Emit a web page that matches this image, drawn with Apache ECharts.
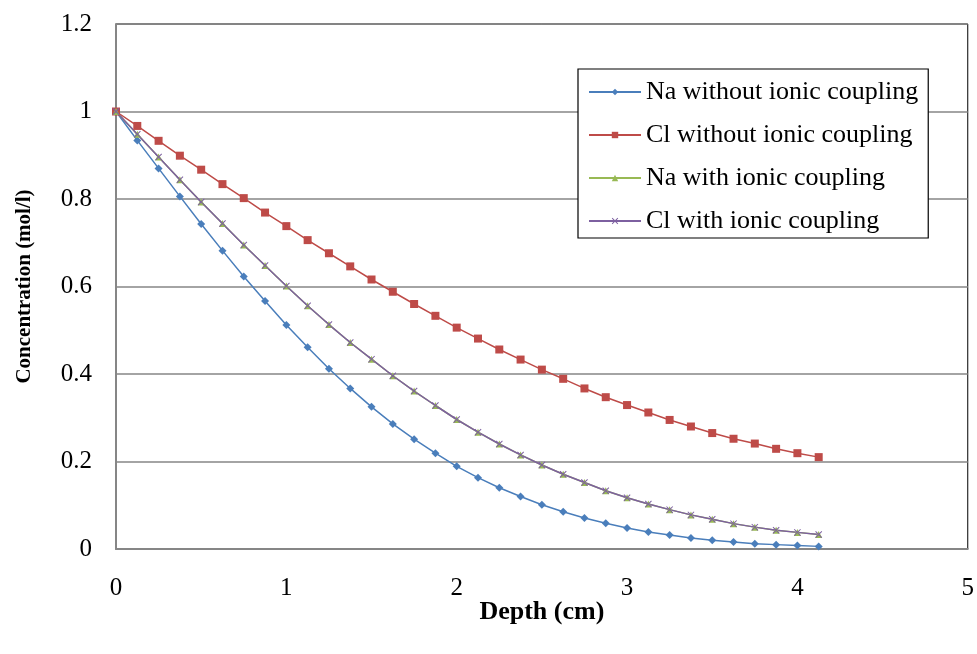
<!DOCTYPE html>
<html>
<head>
<meta charset="utf-8">
<style>
  html, body { margin: 0; padding: 0; background: #fff; }
  #chart { width: 977px; height: 654px; }
</style>
<script src="https://cdn.jsdelivr.net/npm/echarts@6/dist/echarts.min.js"></script>
</head>
<body>
<div id="chart"></div>
<script>
// depth (cm)
var depth = [0, 0.125, 0.25, 0.375, 0.5, 0.625, 0.75, 0.875, 1, 1.125, 1.25, 1.375, 1.5, 1.625, 1.75, 1.875,
  2, 2.125, 2.25, 2.375, 2.5, 2.625, 2.75, 2.875, 3, 3.125, 3.25, 3.375, 3.5, 3.625, 3.75, 3.875, 4, 4.125];
// Na without ionic coupling
var naWithout = [1, 0.934, 0.870, 0.806, 0.743, 0.682, 0.623, 0.567, 0.512, 0.461, 0.412, 0.367, 0.325, 0.286, 0.251, 0.219,
  0.189, 0.163, 0.140, 0.120, 0.101, 0.085, 0.071, 0.059, 0.048, 0.039, 0.032, 0.025, 0.020, 0.016, 0.012, 0.010, 0.008, 0.006];
// Cl without ionic coupling
var clWithout = [1, 0.967, 0.933, 0.899, 0.867, 0.834, 0.802, 0.769, 0.738, 0.706, 0.676, 0.646, 0.616, 0.588, 0.560, 0.533,
  0.506, 0.481, 0.456, 0.433, 0.410, 0.389, 0.367, 0.347, 0.329, 0.312, 0.295, 0.280, 0.265, 0.252, 0.241, 0.229, 0.219, 0.210];
// Na with ionic coupling
var naWith = [1, 0.948, 0.896, 0.844, 0.793, 0.744, 0.695, 0.648, 0.601, 0.556, 0.513, 0.472, 0.434, 0.396, 0.361, 0.328,
  0.296, 0.267, 0.240, 0.215, 0.192, 0.171, 0.152, 0.133, 0.117, 0.103, 0.090, 0.078, 0.068, 0.058, 0.050, 0.043, 0.038, 0.033];
// Cl with ionic coupling
var clWith = [1, 0.948, 0.896, 0.844, 0.793, 0.744, 0.695, 0.648, 0.601, 0.556, 0.513, 0.472, 0.434, 0.396, 0.361, 0.328,
  0.296, 0.267, 0.240, 0.215, 0.192, 0.171, 0.152, 0.133, 0.117, 0.103, 0.090, 0.078, 0.068, 0.058, 0.050, 0.043, 0.038, 0.033];

var seriesNames = ["Na without ionic coupling", "Cl without ionic coupling", "Na with ionic coupling", "Cl with ionic coupling"];

function pairs(ys) {
  return depth.map(function (x, i) { return [x, ys[i]]; });
}

var serif = "Liberation Serif";
//X形标记
var crossPath = "path://M0,1L1,0L5,4L9,0L10,1L6,5L10,9L9,10L5,6L1,10L0,9L4,5Z";

function lineSeries(name, ys, color, symbol, size) {
  return {
    name: name,
    type: "line",
    data: pairs(ys),
    symbol: symbol,
    symbolSize: size,
    showSymbol: true,
    itemStyle: { color: color, borderWidth: 0 },
    lineStyle: { color: color, width: 1.5 },
  };
}

var option = {
  animation: false,
  backgroundColor: "#fff",
  textStyle: { fontFamily: serif, color: "#000" },
  grid: {
    left: 116,
    right: 8,
    top: 24,
    bottom: 105,
    show: true,
    borderColor: "#000",
    borderWidth: 1,
  },
  legend: {
    orient: "vertical",
    left: 578,
    top: 69,
    padding: [10, 10, 4, 10],
    itemGap: 17,
    itemWidth: 52,
    itemHeight: 8,
    borderColor: "#000",
    borderWidth: 1.2,
    backgroundColor: "#fff",
    textStyle: { fontFamily: serif, fontSize: 26, color: "#000", lineHeight: 24 },
    data: seriesNames,
  },
  xAxis: {
    type: "value",
    min: 0,
    max: 5,
    interval: 1,
    name: "Depth (cm)",
    nameLocation: "middle",
    nameGap: 50,
    nameMoveOverlap: false,
    nameTextStyle: { fontFamily: serif, fontSize: 26, fontWeight: "bold", color: "#000" },
    axisLine: { show: true, lineStyle: { color: "#868686", width: 2 } },
    axisTick: { show: false },
    axisLabel: { fontFamily: serif, fontSize: 25, color: "#000", margin: 27 },
    splitLine: { show: false },
  },
  yAxis: {
    type: "value",
    min: 0,
    max: 1.2,
    interval: 0.2,
    name: "Concentration (mol/l)",
    nameLocation: "middle",
    nameGap: 81,
    nameMoveOverlap: false,
    nameTextStyle: { fontFamily: serif, fontSize: 21, fontWeight: "bold", color: "#000" },
    axisLine: { show: true, lineStyle: { color: "#868686", width: 2 } },
    axisTick: { show: false },
    axisLabel: { fontFamily: serif, fontSize: 25, color: "#000", margin: 24 },
    splitLine: { show: true, lineStyle: { color: "#868686", width: 1.5 } },
  },
  series: [
    lineSeries(seriesNames[0], naWithout, "#4A7EBB", "diamond", 8),
    lineSeries(seriesNames[1], clWithout, "#BE4B48", "rect", 8),
    lineSeries(seriesNames[2], naWith, "#98B954", "triangle", 7),
    lineSeries(seriesNames[3], clWith, "#7D60A0", crossPath, 7),
  ],
};

var myChart = echarts.init(document.getElementById("chart"));
myChart.setOption(option);
window.addEventListener("resize", function () {
  myChart.resize();
});
</script>
</body>
</html>
